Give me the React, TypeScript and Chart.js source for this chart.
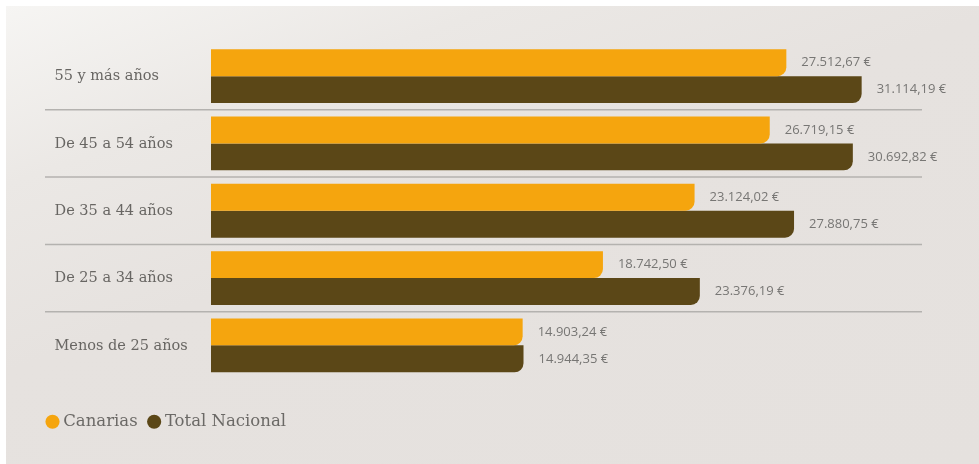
import React, { useEffect, useRef } from "react";
import { Chart, registerables } from "chart.js";

Chart.register(...registerables);

const categories = [
  "55 y más años",
  "De 45 a 54 años",
  "De 35 a 44 años",
  "De 25 a 34 años",
  "Menos de 25 años",
];
const canariasValues = [27512.67, 26719.15, 23124.02, 18742.5, 14903.24];
const nacionalValues = [31114.19, 30692.82, 27880.75, 23376.19, 14944.35];
const seriesNames = ["Canarias", "Total Nacional"];
const xMax = 34000;

const ORANGE = "#f5a50e";
const BROWN = "#5b4717";

function fmt(v: number): string {
  const [i, d] = v.toFixed(2).split(".");
  return i.replace(/\B(?=(\d{3})+(?!\d))/g, ".") + "," + d + " €";
}

const decorPlugin = {
  id: "decor",
  beforeDatasetsDraw(chart: any) {
    const ctx = chart.ctx;
    const y = chart.scales.y;
    const area = chart.chartArea;
    ctx.save();
    ctx.strokeStyle = "#b4b2af";
    ctx.lineWidth = 1.5;
    for (let i = 0; i < categories.length - 1; i++) {
      const py = (y.getPixelForValue(i) + y.getPixelForValue(i + 1)) / 2;
      ctx.beginPath();
      ctx.moveTo(39, py);
      ctx.lineTo(area.right, py);
      ctx.stroke();
    }
    ctx.fillStyle = "#686663";
    ctx.font = "14.5px 'DejaVu Serif'";
    ctx.textAlign = "left";
    ctx.textBaseline = "middle";
    categories.forEach((c, i) => {
      ctx.fillText(c, 48.5, y.getPixelForValue(i) + 0.5);
    });
    ctx.restore();
  },
  afterDatasetsDraw(chart: any) {
    const ctx = chart.ctx;
    ctx.save();
    ctx.fillStyle = "#777674";
    ctx.font = "13px 'Open Sans'";
    ctx.textAlign = "left";
    ctx.textBaseline = "middle";
    chart.data.datasets.forEach((ds: any, di: number) => {
      const meta = chart.getDatasetMeta(di);
      meta.data.forEach((el: any, i: number) => {
        ctx.fillText(fmt(ds.data[i]), el.x + 15, el.y);
      });
    });
    ctx.restore();
  },
};

export default function App() {
  const ref = useRef<HTMLCanvasElement | null>(null);
  useEffect(() => {
    if (!ref.current) return;
    const chart = new Chart(ref.current, {
      type: "bar",
      data: {
        labels: categories,
        datasets: [
          {
            label: seriesNames[0],
            data: canariasValues,
            backgroundColor: ORANGE,
            borderRadius: { topLeft: 0, topRight: 0, bottomLeft: 0, bottomRight: 9 },
            borderSkipped: false,
            categoryPercentage: 0.8,
            barPercentage: 1.0,
          },
          {
            label: seriesNames[1],
            data: nacionalValues,
            backgroundColor: BROWN,
            borderRadius: { topLeft: 0, topRight: 0, bottomLeft: 0, bottomRight: 9 },
            borderSkipped: false,
            categoryPercentage: 0.8,
            barPercentage: 1.0,
          },
        ],
      },
      options: {
        indexAxis: "y",
        animation: false,
        responsive: false,
        maintainAspectRatio: false,
        layout: { padding: { left: 30, right: 57, top: 36.5, bottom: 24 } },
        scales: {
          x: {
            min: 0,
            max: xMax,
            display: true,
            ticks: { display: false },
            grid: { display: false },
            border: { display: false },
            afterFit: (s: any) => {
              s.height = 20.5;
            },
          },
          y: {
            display: true,
            ticks: { display: false },
            grid: { display: false },
            border: { display: false },
            afterFit: (s: any) => {
              s.width = 175;
            },
          },
        },
        plugins: {
          tooltip: { enabled: false },
          legend: {
            position: "bottom",
            align: "start",
            labels: {
              usePointStyle: true,
              pointStyle: "circle",
              boxHeight: 10,
              boxWidth: 5,
              padding: 14,
              color: "#6b6966",
              font: { family: "'DejaVu Serif'", size: 16.5 },
            },
          },
        },
      },
      plugins: [decorPlugin],
    });
    return () => chart.destroy();
  }, []);
  return (
    <div
      style={{
        position: "absolute",
        left: 6,
        top: 6,
        width: 973,
        height: 458,
        background:
          "linear-gradient(160deg, #f6f5f3 0%, #ebe8e5 22%, #e6e2df 45%, #e5e1de 100%)",
      }}
    >
      <canvas ref={ref} width={973} height={458} style={{ display: "block" }} />
    </div>
  );
}
